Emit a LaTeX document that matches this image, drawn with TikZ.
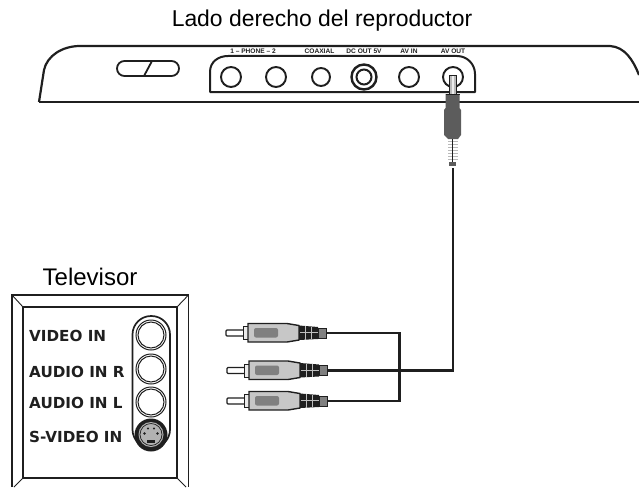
\documentclass[tikz,border=0pt]{standalone}
\usepackage{fontspec}
\setmainfont{Liberation Sans}
\newfontfamily\tvfont{DejaVu Sans}
\definecolor{plugdark}{gray}{0.36}
\definecolor{pluglight}{gray}{0.78}
\definecolor{plugmid}{gray}{0.5}
\definecolor{ink}{gray}{0.12}
\tikzset{
  outline/.style={draw=ink,line width=2.2pt,line join=round},
  jack/.style={draw=ink,line width=1.9pt,fill=white,circle,inner sep=0pt,minimum size=#1},
  cablewire/.style={draw=ink,line width=2.1pt,line cap=butt,line join=miter},
  title/.style={font=\fontsize{22.9}{24}\selectfont,text=black,inner sep=0pt},
  tinylabel/.style={font=\bfseries\fontsize{6.6}{7}\selectfont,text=ink,inner sep=0pt},
  tvlabel/.style={font=\tvfont\bfseries\fontsize{15.2}{16}\selectfont,text=ink,inner sep=0pt,anchor=west},
  tvjack/.style={draw=ink,line width=1pt,fill=white,circle,inner sep=0pt,minimum size=#1},
}
\newcommand{\rcaplug}[2]{% dx, y
  \begin{scope}[shift={(#1,#2)}]
    \draw[ink,line width=1.2pt,fill=white,rounded corners=1pt] (243,-3) -- (226,-3) -- (226,3) -- (243,3);
    \draw[ink,line width=1pt,fill=white!92!black] (243,-6.5) rectangle (248,6.5);
    \draw[ink,line width=1.4pt,fill=pluglight] (248,-9.5) -- (287,-9.5) -- (299,-7.5) -- (299,7) -- (287,9) -- (248,9) -- cycle;
    \fill[plugmid,rounded corners=2pt] (254,-5) rectangle (278,4.5);
    \fill[ink] (299,-7.5) -- (318,-6) -- (318,6) -- (299,7) -- cycle;
    \draw[white!75!black,line width=0.4pt] (300,-0.5) -- (318,-0.5) (305,-7) -- (305,6.5) (311,-6.5) -- (311,6);
    \draw[ink,line width=1pt,fill=plugmid] (318,-5) rectangle (326,5);
  \end{scope}
}
\begin{document}
\begin{tikzpicture}[x=1pt,y=-1pt]
\useasboundingbox (0,0) rectangle (639,487);
% titles
\node[title] (devtitle) at (322,20.5) {Lado derecho del reproductor};
\node[title,font=\fontsize{24}{25}\selectfont] (tvtitle) at (90,277) {Televisor};
% player body
\draw[outline] (39,102) -- (44,70) .. controls (47,56) and (62,46) .. (80,46) -- (610,46) .. controls (625,47) and (633,60) .. (639,75);
\draw[outline] (39,102) -- (639,102);
% slot
\draw[outline,line width=1.8pt,rounded corners=7.4pt] (117,61) rectangle (179,76);
\draw[outline,line width=1.8pt] (152,61) -- (144,76);
% panel
\draw[outline,line width=2pt] (210,92) -- (210,72) .. controls (210,62) and (218,56) .. (228,56) -- (457,56) .. controls (467,56) and (475,64) .. (475,74) -- (475,92) -- cycle;
\node[jack=20pt] (j1) at (231,77) {};
\node[jack=20pt] (j2) at (276,77) {};
\node[jack=18pt] (j3) at (321,77) {};
\node[jack=25pt,line width=2.4pt] (j4) at (364,77) {};
\node[jack=15pt,line width=2pt] (j4i) at (364,77) {};
\node[jack=20pt] (j5) at (409,77) {};
\node[jack=20pt] (j6) at (453,77) {};
\node[tinylabel] (l1) at (253,51.5) {1 – PHONE – 2};
\node[tinylabel] (l2) at (319.5,51.5) {COAXIAL};
\node[tinylabel] (l3) at (364,51.5) {DC OUT 5V};
\node[tinylabel] (l4) at (409,51.5) {AV IN};
\node[tinylabel] (l5) at (453,51.5) {AV OUT};
% AV plug
\fill[white] (448.5,74) rectangle (457,95);
\fill[gray!55] (449.5,75) rectangle (456.5,95);
\fill[gray!15] (451.5,75) rectangle (454,95);
\draw[ink,line width=0.5pt] (449.5,95) -- (449.5,75) -- (456.5,75) -- (456.5,95);
\fill[plugdark] (445.5,94) -- (459.5,94) -- (459.5,108) -- (461,110) -- (461,135) -- (458,139) -- (448,139) -- (444,135) -- (444,110) -- (445.5,108) -- cycle;
\draw[ink,line width=0.5pt] (445.5,94) -- (459.5,94);
\foreach \yy in {141,144,147,150,153,156,159} {
  \draw[gray!55,line width=0.9pt] (448,\yy) -- (458,\yy);
}
\draw[ink,line width=0.7pt] (452.7,139) -- (452.7,162);
\fill[plugdark] (449,162) rectangle (456,166);
% cables
\coordinate (avplugend) at (452.7,168);
\coordinate (jna) at (399.5,333);
\coordinate (jnc) at (399.5,401);
\coordinate (jnr) at (452.7,370.5);
\coordinate (rcaA) at (326,333);
\coordinate (rcaB) at (327,370.5);
\coordinate (rcaC) at (327,401);
\draw[cablewire] (avplugend) -- (jnr) -- (rcaB);
\draw[cablewire] (rcaA) -- (jna) -- (jnc) -- (rcaC);
% RCA plugs
\rcaplug{0}{333}
\rcaplug{1}{370.5}
\rcaplug{1}{401}
% TV panel
\draw[ink,line width=1.6pt] (12,487) -- (12,295) -- (188.5,295) -- (188.5,487);
\draw[ink,line width=1.9pt] (23,307) rectangle (177,478);
\draw[ink,line width=0.9pt] (12,295) -- (23,307) (188.5,295) -- (177,307) (23,478) -- (14,487) (177,478) -- (186,487);
% capsule
\draw[ink,line width=1.7pt,fill=white,rounded corners=18.5pt] (132.5,316) rectangle (170,448);
\node[tvjack=30pt] (c1o) at (151,335) {};
\node[tvjack=26pt] (c1i) at (151,335) {};
\node[tvjack=30pt] (c2o) at (151,369) {};
\node[tvjack=26pt] (c2i) at (151,369) {};
\node[tvjack=30pt] (c3o) at (151,402) {};
\node[tvjack=26pt] (c3i) at (151,402) {};
\fill[ink] (151,435) circle (16.5pt);
\fill[white!70!black] (151,434.5) circle (12.5pt);
\draw[ink,line width=0.7pt] (151,434.5) circle (11pt);
\fill[ink] (144.5,433.5) circle (1.4pt) (157.5,433.5) circle (1.4pt) (148,428.5) circle (1.2pt) (154,428.5) circle (1.2pt);
\fill[ink] (147,440) rectangle (155,443);
% TV labels
\node[tvlabel] (v1) at (29,336) {VIDEO IN};
\node[tvlabel] (v2) at (29,372) {AUDIO IN R};
\node[tvlabel] (v3) at (29,403) {AUDIO IN L};
\node[tvlabel] (v4) at (29,437) {S-VIDEO IN};
\end{tikzpicture}
\end{document}
